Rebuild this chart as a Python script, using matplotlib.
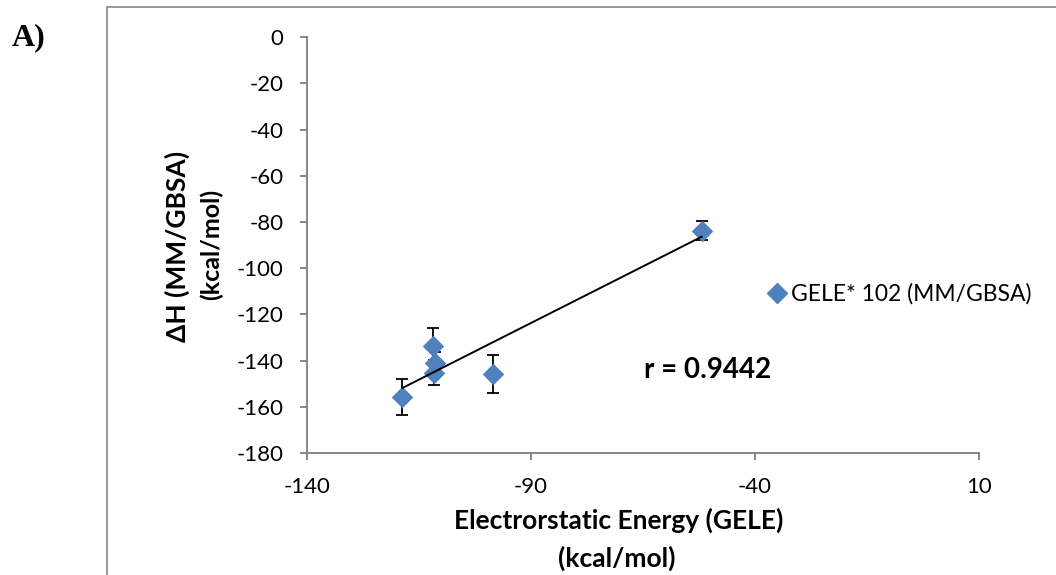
import numpy as np
import matplotlib
matplotlib.use('Agg')
import matplotlib.pyplot as plt
from matplotlib.patches import Rectangle
from matplotlib.lines import Line2D

plt.rcParams['font.family'] = ['Lato', 'DejaVu Sans']
plt.rcParams['axes.unicode_minus'] = False

# data
gele = [-118.7, -111.8, -111.5, -111.6, -98.4, -51.9]
dh = [-155.6, -133.5, -141.1, -145.2, -145.8, -83.7]
dh_err = [7.8, 7.5, 5.0, 5.3, 8.2, 4.2]
x_ticks = [-140, -90, -40, 10]
y_ticks = [0, -20, -40, -60, -80, -100, -120, -140, -160, -180]
series_name = 'GELE* 102 (MM/GBSA)'
r_text = 'r = 0.9442'

W, H = 1056, 575
fig = plt.figure(figsize=(W / 100, H / 100), dpi=100)

# outer chart frame (cut off on the right and bottom)
fig.patches.append(Rectangle((107 / W, -0.1), 1.0, 1 - 7 / H + 0.1, transform=fig.transFigure,
                             fill=False, edgecolor='#868686', linewidth=1.2))

ax = fig.add_axes([307 / W, 1 - 453 / H, (979 - 307) / W, (453 - 37.3) / H])

blue = '#4f81bd'
ax.errorbar(gele, dh, yerr=dh_err, fmt='none', ecolor='black', elinewidth=1.3,
            capsize=4.5, capthick=1.3, zorder=2)
ax.scatter(gele, dh, marker='D', s=120, color=blue, zorder=3, linewidths=0)

# linear trendline
k, b = np.polyfit(gele, dh, 1)
xs = np.array([min(gele), max(gele)])
ax.plot(xs, k * xs + b, color='black', linewidth=1.4, zorder=4)

ax.set_xlim(-140, 10)
ax.set_ylim(-180, 0)
ax.set_xticks(x_ticks)
ax.set_yticks(y_ticks)

for s in ['top', 'right']:
    ax.spines[s].set_visible(False)
for s in ['left', 'bottom']:
    ax.spines[s].set_color('#868686')
    ax.spines[s].set_linewidth(1.4)
ax.tick_params(axis='both', colors='#868686', labelcolor='black', labelsize=16,
               length=5, width=1.4, direction='out')
ax.tick_params(axis='y', pad=12)
ax.tick_params(axis='x', pad=12)

fig.text(708 / W, 1 - 370 / H, r_text, fontsize=20, fontweight='bold',
         ha='center', va='center')

# legend
handle = Line2D([], [], marker='D', color=blue, linestyle='none', markersize=10)
fig.legend([handle], [series_name], loc='center left', bbox_to_anchor=(752 / W, 1 - 294 / H),
           frameon=False, fontsize=16.5, handletextpad=0.0, handlelength=1.2, borderpad=0)

# axis titles
fig.text(177 / W, 1 - 246 / H, 'ΔH (MM/GBSA)', rotation=90, fontsize=19, fontweight='bold',
         ha='center', va='center')
fig.text(211 / W, 1 - 244 / H, '(kcal/mol)', rotation=90, fontsize=18, fontweight='bold',
         ha='center', va='center')
fig.text(619 / W, 1 - 520 / H, 'Electrorstatic Energy (GELE)', fontsize=19, fontweight='bold',
         ha='center', va='center')
fig.text(617 / W, 1 - 558 / H, '(kcal/mol)', fontsize=19, fontweight='bold',
         ha='center', va='center')

fig.text(12 / W, 1 - 38 / H, 'A)', family=['Liberation Serif', 'DejaVu Serif'], fontsize=23,
         fontweight='bold', ha='left', va='center')

fig.savefig('out.png', dpi=100)
